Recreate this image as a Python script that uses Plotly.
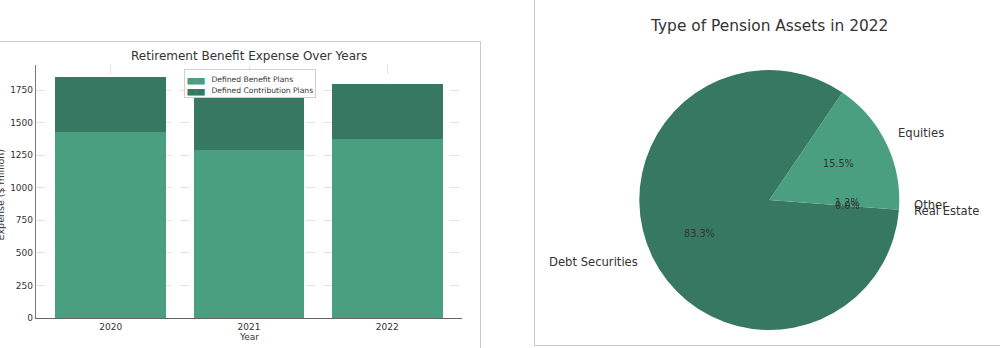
import math
import plotly.graph_objects as go

# ---------------- data ----------------
years = ["2020", "2021", "2022"]
defined_benefit = [1430, 1290, 1375]
defined_contribution = [420, 405, 420]
series_names = ["Defined Benefit Plans", "Defined Contribution Plans"]

asset_labels = ["Equities", "Debt Securities", "Real Estate", "Other"]
asset_values = [15.5, 83.3, 0.0, 1.2]

# ---------------- styling ----------------
FONT = "DejaVu Sans"
TXT = "#333333"
LIGHT = "#4a9f80"
DARK = "#367861"
W, H = 1000, 348

fig = go.Figure()

fig.add_trace(go.Bar(x=years, y=defined_benefit, name=series_names[0], showlegend=False,
                     marker=dict(color=LIGHT, line=dict(width=0)), width=0.8))
fig.add_trace(go.Bar(x=years, y=defined_contribution, name=series_names[1], showlegend=False,
                     marker=dict(color=DARK, line=dict(width=0)), width=0.8))

# pie domain (pixels -> paper)
pcx, pcy, pr = 769.3, 200.0, 130.0
pie_dom_x = [(pcx - pr) / W, (pcx + pr) / W]
pie_dom_y = [(H - (pcy + pr)) / H, (H - (pcy - pr)) / H]
pie_colors = [LIGHT, DARK, "#5fb894", LIGHT]
total = sum(asset_values)
# matplotlib-style: first wedge starts at 3 o'clock, going counter-clockwise
rotation = 90 - 360.0 * asset_values[0] / total

fig.add_trace(go.Pie(labels=asset_labels, values=asset_values, sort=False,
                     direction="counterclockwise", rotation=rotation,
                     marker=dict(colors=pie_colors, line=dict(width=0)),
                     textinfo="none", hoverinfo="label+percent",
                     domain=dict(x=pie_dom_x, y=pie_dom_y), showlegend=False))

annotations = []
start = 0.0
for lab, v in zip(asset_labels, asset_values):
    span = 360.0 * v / total
    mid = math.radians(start + span / 2)
    start += span
    lx = pcx + 1.1 * pr * math.cos(mid)
    ly = pcy - 1.1 * pr * math.sin(mid)
    annotations.append(dict(x=lx / W, y=(H - ly) / H, xref="paper", yref="paper",
                            text=lab, showarrow=False,
                            xanchor="left" if math.cos(mid) >= 0 else "right",
                            yanchor="middle",
                            font=dict(family=FONT, size=11.6, color=TXT)))
    px = pcx + 0.6 * pr * math.cos(mid)
    py = pcy - 0.6 * pr * math.sin(mid)
    annotations.append(dict(x=px / W, y=(H - py) / H, xref="paper", yref="paper",
                            text=f"{100 * v / total:.1f}%", showarrow=False,
                            xanchor="center", yanchor="middle",
                            font=dict(family=FONT, size=9.7, color=TXT)))

# titles
annotations.append(dict(x=pcx / W, y=(H - 26) / H, xref="paper", yref="paper",
                        text="Type of Pension Assets in 2022", showarrow=False,
                        xanchor="center", yanchor="middle",
                        font=dict(family=FONT, size=15.4, color=TXT)))
annotations.append(dict(x=249 / W, y=(H - 56) / H, xref="paper", yref="paper",
                        text="Retirement Benefit Expense Over Years", showarrow=False,
                        xanchor="center", yanchor="middle",
                        font=dict(family=FONT, size=12, color=TXT)))
# axis titles
annotations.append(dict(x=0.5 / W, y=(H - 195) / H, xref="paper", yref="paper",
                        text="Expense ($ million)", showarrow=False, textangle=-90,
                        xanchor="center", yanchor="middle",
                        font=dict(family=FONT, size=9.5, color=TXT)))
annotations.append(dict(x=249 / W, y=(H - 336.7) / H, xref="paper", yref="paper",
                        text="Year", showarrow=False,
                        xanchor="center", yanchor="middle",
                        font=dict(family=FONT, size=9, color=TXT)))
# cut-off "Year" at top of right panel
annotations.append(dict(x=785 / W, y=(H - 1.5) / H, xref="paper", yref="paper",
                        text="Year", showarrow=False, xanchor="center", yanchor="bottom",
                        font=dict(family=FONT, size=9, color="#999999")))

# legend box (built from the series names and colours)
legend_lines = [
    f'<span style="color:{c};font-size:11px">▄▄&nbsp;&nbsp;</span>'
    f'<span style="font-size:7.6px">{n}</span>'
    for c, n in zip([LIGHT, DARK], series_names)
]
annotations.append(dict(x=184.3 / W, y=(H - 68.7) / H, xref="paper", yref="paper",
                        text="<br>".join(legend_lines), showarrow=False, align="left",
                        xanchor="left", yanchor="top",
                        bgcolor="rgba(255,255,255,0.85)", bordercolor="#d0d0d0",
                        borderwidth=1, borderpad=1.5,
                        font=dict(family=FONT, size=8.7, color=TXT)))

# panel borders
shapes = [
    dict(type="line", xref="paper", yref="paper", x0=-0.01, x1=480.5 / W,
         y0=(H - 41.5) / H, y1=(H - 41.5) / H, line=dict(color="#c8c8c8", width=1)),
    dict(type="line", xref="paper", yref="paper", x0=480.5 / W, x1=480.5 / W,
         y0=-0.01, y1=(H - 41.5) / H, line=dict(color="#c8c8c8", width=1)),
    dict(type="line", xref="paper", yref="paper", x0=534.5 / W, x1=534.5 / W,
         y0=(H - 345.5) / H, y1=1.01, line=dict(color="#c8c8c8", width=1)),
    dict(type="line", xref="paper", yref="paper", x0=534.5 / W, x1=1.01,
         y0=(H - 345.5) / H, y1=(H - 345.5) / H, line=dict(color="#c8c8c8", width=1)),
]

fig.update_layout(
    width=W, height=H, autosize=False,
    margin=dict(l=0, r=0, t=0, b=0, pad=0, autoexpand=False),
    paper_bgcolor="white", plot_bgcolor="white",
    barmode="stack", bargap=0.2, showlegend=False,
    font=dict(family=FONT, color=TXT, size=9),
    xaxis=dict(domain=[36 / W, 462 / W], range=[-0.54, 2.54], type="category",
               showline=True, linecolor="#666666", linewidth=1.3, automargin=False,
               showgrid=True, gridcolor="#e2e2e2", griddash="dash", gridwidth=0.8,
               ticks="", tickfont=dict(size=9, color=TXT), zeroline=False),
    yaxis=dict(domain=[(H - 318) / H, (H - 65) / H], range=[0, 1942.5],
               tickvals=[0, 250, 500, 750, 1000, 1250, 1500, 1750], automargin=False,
               showline=True, linecolor="#7a7a7a", linewidth=1.3,
               showgrid=True, gridcolor="#e2e2e2", griddash="dash", gridwidth=0.8,
               ticks="", tickfont=dict(size=9, color=TXT), zeroline=False),
    annotations=annotations,
    shapes=shapes,
)

fig.write_html("out.html")
